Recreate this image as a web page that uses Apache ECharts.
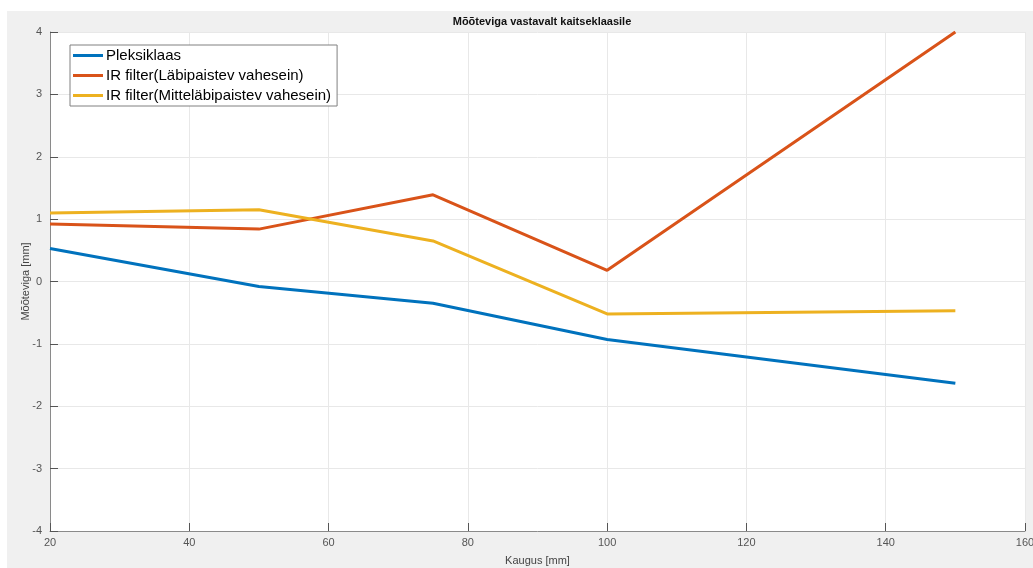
<!DOCTYPE html>
<html><head><meta charset="utf-8">
<script src="https://cdn.jsdelivr.net/npm/echarts@6/dist/echarts.min.js"></script>
<style>html,body{margin:0;padding:0;background:#fff;overflow:hidden;}#c{width:1033px;height:568px;}</style>
</head><body><div id="c"></div>
<script>
const xValues = [20, 50, 75, 100, 150];
const pleksiklaas = [0.53, -0.08, -0.35, -0.93, -1.63];
const irLabi = [0.92, 0.84, 1.39, 0.18, 4.0];
const irMitte = [1.10, 1.15, 0.65, -0.52, -0.47];
const seriesNames = ['Pleksiklaas', 'IR filter(Läbipaistev vahesein)', 'IR filter(Mitteläbipaistev vahesein)'];
const colors = ['#0072BD', '#D95319', '#EDB120'];
const titleText = 'Mõõteviga vastavalt kaitseklaasile';
const xName = 'Kaugus [mm]';
const yName = 'Mõõteviga [mm]';

const chart = echarts.init(document.getElementById('c'));
const pair = arr => xValues.map((x, i) => [x, arr[i]]);
const font = 'Helvetica, "Liberation Sans", Arial, sans-serif';
const axisGray = '#8a8a8a';
chart.setOption({
  backgroundColor: '#ffffff',
  animation: false,
  graphic: [{type: 'rect', z: -10, shape: {x: 7, y: 11, width: 1026, height: 557}, style: {fill: '#f0f0f0'}}],
  title: {text: titleText, left: 537, top: 11, textAlign: 'center',
    textStyle: {fontFamily: font, fontSize: 11, fontWeight: 'bold', color: '#111'}},
  grid: {left: 50, top: 32, right: 8, bottom: 37, show: true, backgroundColor: '#fff', borderWidth: 0,
    outerBoundsMode: 'none', containLabel: false},
  legend: {
    left: 70, top: 45, orient: 'vertical', backgroundColor: '#fff', borderColor: '#808080', borderWidth: 1,
    padding: [3, 6, 3, 3], itemGap: 5, itemWidth: 30, itemHeight: 3, icon: 'rect',
    textStyle: {fontFamily: font, fontSize: 15, color: '#000', padding: [0, 0, 0, -2]},
    data: seriesNames
  },
  xAxis: {
    type: 'value', min: 20, max: 160, interval: 20,
    name: xName, nameLocation: 'middle', nameGap: 24, nameMoveOverlap: false,
    nameTextStyle: {fontFamily: font, fontSize: 11, color: '#444'},
    axisLine: {onZero: false, lineStyle: {color: axisGray, width: 1}},
    axisTick: {inside: true, length: 8, lineStyle: {color: '#555'}},
    axisLabel: {fontFamily: font, fontSize: 11, color: '#555', margin: 6},
    splitLine: {lineStyle: {color: '#e8e8e8'}}
  },
  yAxis: {
    type: 'value', min: -4, max: 4, interval: 1,
    name: yName, nameLocation: 'middle', nameGap: 19, nameMoveOverlap: false,
    nameTextStyle: {fontFamily: font, fontSize: 11, color: '#444'},
    axisLine: {show: true, onZero: false, lineStyle: {color: axisGray, width: 1}},
    axisTick: {show: true, inside: true, length: 8, lineStyle: {color: '#555'}},
    axisLabel: {fontFamily: font, fontSize: 11, color: '#555', margin: 8},
    splitLine: {lineStyle: {color: '#e8e8e8'}}
  },
  series: [
    {name: seriesNames[0], type: 'line', data: pair(pleksiklaas), showSymbol: false, lineStyle: {width: 3, color: colors[0]}, itemStyle: {color: colors[0]}},
    {name: seriesNames[1], type: 'line', data: pair(irLabi), showSymbol: false, lineStyle: {width: 3, color: colors[1]}, itemStyle: {color: colors[1]}},
    {name: seriesNames[2], type: 'line', data: pair(irMitte), showSymbol: false, lineStyle: {width: 3, color: colors[2]}, itemStyle: {color: colors[2]}}
  ]
});
</script></body></html>
